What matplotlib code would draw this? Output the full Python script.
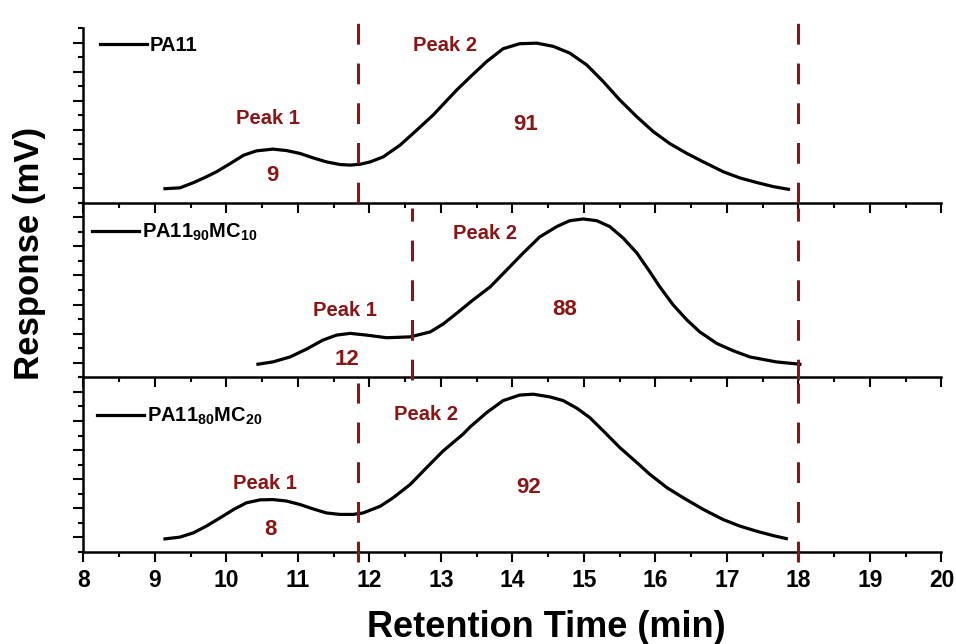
import numpy as np
import matplotlib
matplotlib.use("Agg")
import matplotlib.pyplot as plt
from matplotlib.ticker import MultipleLocator, NullFormatter

plt.rcParams['font.family'] = ['Liberation Sans', 'DejaVu Sans']
plt.rcParams['font.weight'] = 'bold'
plt.rcParams['mathtext.fontset'] = 'custom'
plt.rcParams['mathtext.rm'] = 'Liberation Sans:bold'
plt.rcParams['mathtext.bf'] = 'Liberation Sans:bold'
plt.rcParams['mathtext.default'] = 'rm'

## ---------- data (response in arbitrary units) ----------
t_pa11 = [9.14, 9.35, 9.54, 9.72, 9.86, 10.05, 10.24, 10.42, 10.65, 10.84, 11.03, 11.21,
          11.40, 11.59, 11.73, 11.87, 12.01, 12.19, 12.43, 12.66, 12.89, 13.22, 13.41,
          13.64, 13.87, 14.10, 14.34, 14.57, 14.80, 15.04, 15.27, 15.50, 15.74, 15.97,
          16.20, 16.44, 16.67, 16.95, 17.18, 17.42, 17.65, 17.86]
r_pa11 = [-0.02, 0.01, 0.19, 0.39, 0.56, 0.84, 1.13, 1.28, 1.34, 1.29, 1.19, 1.04,
          0.90, 0.81, 0.79, 0.82, 0.90, 1.07, 1.48, 1.99, 2.51, 3.37, 3.82,
          4.35, 4.79, 4.96, 4.98, 4.87, 4.64, 4.23, 3.66, 3.03, 2.45, 1.94,
          1.53, 1.19, 0.90, 0.56, 0.35, 0.19, 0.05, -0.04]

t_mc10 = [10.44, 10.65, 10.89, 11.12, 11.35, 11.54, 11.73, 11.96, 12.24, 12.57, 12.85,
          13.03, 13.22, 13.45, 13.69, 13.92, 14.15, 14.38, 14.62, 14.80, 14.99, 15.18,
          15.36, 15.55, 15.74, 15.92, 16.06, 16.25, 16.44, 16.62, 16.86, 17.09, 17.32,
          17.69, 18.02]
r_mc10 = [-0.05, 0.03, 0.20, 0.47, 0.78, 0.95, 1.01, 0.95, 0.86, 0.89, 1.06,
          1.33, 1.70, 2.16, 2.61, 3.19, 3.77, 4.32, 4.68, 4.88, 4.94, 4.88,
          4.68, 4.28, 3.77, 3.13, 2.61, 1.98, 1.47, 1.06, 0.66, 0.41, 0.20,
          0.03, -0.05]

t_mc20 = [9.14, 9.35, 9.54, 9.72, 9.91, 10.10, 10.28, 10.47, 10.65, 10.84, 11.03, 11.21,
          11.40, 11.59, 11.77, 11.91, 12.15, 12.33, 12.57, 12.80, 13.03, 13.31, 13.41,
          13.64, 13.87, 14.10, 14.29, 14.52, 14.71, 14.90, 15.08, 15.27, 15.50, 15.74,
          15.92, 16.16, 16.39, 16.67, 16.95, 17.18, 17.42, 17.65, 17.83]
r_mc20 = [-0.05, 0.01, 0.16, 0.39, 0.67, 0.96, 1.19, 1.29, 1.30, 1.25, 1.13, 0.98,
          0.84, 0.79, 0.79, 0.84, 1.07, 1.36, 1.82, 2.40, 2.97, 3.55, 3.80,
          4.29, 4.70, 4.89, 4.92, 4.83, 4.70, 4.44, 4.12, 3.66, 3.09, 2.57,
          2.17, 1.71, 1.36, 0.96, 0.61, 0.39, 0.21, 0.06, -0.04]

labels = ['PA11', r'PA11$_{90}$MC$_{10}$', r'PA11$_{80}$MC$_{20}$']
cuts = [[11.84, 18.0], [12.6, 18.0], [11.84, 18.0]]          # peak boundaries (min)
peak1_area = ['9', '12', '8']
peak2_area = ['91', '88', '92']

# text anchors (x in min, y in response units)
peak1_lbl_xy = [(10.58, 2.40), (11.66, 1.79), (10.54, 1.84)]
peak1_num_xy = [(10.65, 0.44), (11.68, 0.12), (10.61, 0.27)]
peak2_lbl_xy = [(13.06, 4.91), (13.61, 4.43), (12.79, 4.23)]
peak2_num_xy = [(14.19, 2.20), (14.73, 1.84), (14.22, 1.73)]

curves = [(t_pa11, r_pa11), (t_mc10, r_mc10), (t_mc20, r_mc20)]

dark_red = '#8b1414'
leg_anchor = [(0.019, 0.902), (0.0099, 0.83), (0.016, 0.776)]
cut_span = [(-0.5, 6.3), (-0.6, 5.3), (-0.85, 5.3)]

fig = plt.figure(figsize=(9.56, 6.44), dpi=100)
axes = fig.subplots(3, 1, sharex=True, gridspec_kw=dict(hspace=0))
fig.subplots_adjust(left=0.0873, right=0.9848, top=0.9565, bottom=0.1429)

for i, ax in enumerate(axes):
    ax.set_facecolor('none')
    t, r = curves[i]
    ax.plot(t, r, color='black', lw=2.3, solid_joinstyle='round', label=labels[i])

    for xc in cuts[i]:
        ax.plot([xc, xc], cut_span[i], color=dark_red, lw=2.2, dashes=(6.8, 6.2),
                clip_on=False, zorder=3)

    ax.text(*peak1_lbl_xy[i], 'Peak 1', color=dark_red, fontsize=14.5, ha='center', va='center')
    ax.text(*peak1_num_xy[i], peak1_area[i], color=dark_red, fontsize=16, ha='center', va='center')
    ax.text(*peak2_lbl_xy[i], 'Peak 2', color=dark_red, fontsize=14.5, ha='center', va='center')
    ax.text(*peak2_num_xy[i], peak2_area[i], color=dark_red, fontsize=16, ha='center', va='center')

    ax.legend(loc='center left', bbox_to_anchor=leg_anchor[i], frameon=False,
              borderpad=0, borderaxespad=0, handlelength=2.33, handletextpad=0.15,
              fontsize=14.5)

    ax.set_xlim(8, 20)
    ax.set_ylim(-0.5, 5.5)
    ax.xaxis.set_major_locator(MultipleLocator(1))
    ax.xaxis.set_minor_locator(MultipleLocator(0.5))
    ax.yaxis.set_major_locator(MultipleLocator(1))
    ax.yaxis.set_minor_locator(MultipleLocator(0.5))
    ax.yaxis.set_major_formatter(NullFormatter())

    for s in ['top', 'right']:
        ax.spines[s].set_visible(False)
    for s in ['left', 'bottom']:
        ax.spines[s].set_linewidth(1.8)

    ax.tick_params(which='major', direction='out', length=7.2, width=1.5, labelsize=16.5, pad=5)
    ax.tick_params(which='minor', direction='out', length=3.6, width=1.5)

for ax in axes[:-1]:
    ax.tick_params(labelbottom=False)

fig.text(0.031, 0.607, 'Response (mV)', rotation=90, ha='center', va='center', fontsize=25)
fig.text(0.571, 0.025, 'Retention Time (min)', ha='center', va='center', fontsize=26)

fig.savefig('out.png', dpi=100, facecolor='white')
